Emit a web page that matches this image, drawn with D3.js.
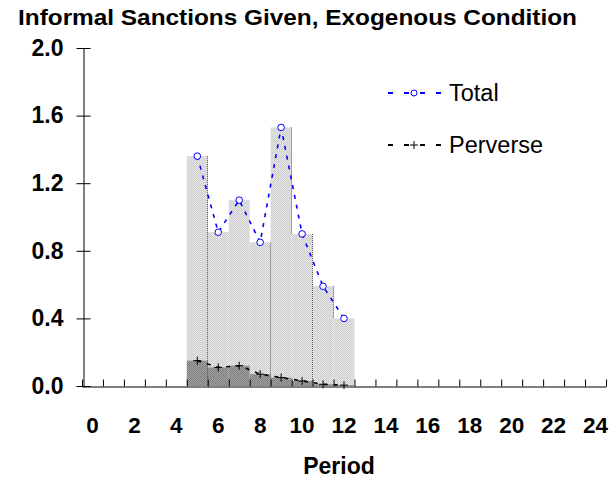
<!DOCTYPE html>
<html>
<head>
<meta charset="utf-8">
<script src="https://cdn.jsdelivr.net/npm/d3@7"></script>
<style>
  body { margin: 0; background: #fff; }
  svg { display: block; font-family: "Liberation Sans", Arial, sans-serif; }
</style>
</head>
<body>
<svg id="chart" width="611" height="482"></svg>
<script>
// categories on the x axis (one band per period)
var periods = [0, 1, 2, 3, 4, 5, 6, 7, 8, 9, 10, 11, 12, 13, 14, 15, 16, 17, 18, 19, 20, 21, 22, 23, 24]
var xLabels = [0, 2, 4, 6, 8, 10, 12, 14, 16, 18, 20, 22, 24]
var yTicks = [0, 0.4, 0.8, 1.2, 1.6, 2.0]

// observed periods and values
var dataPeriods = [5, 6, 7, 8, 9, 10, 11, 12]
var total = [1.36, 0.91, 1.10, 0.85, 1.53, 0.90, 0.59, 0.40]
var perverse = [0.15, 0.11, 0.12, 0.07, 0.05, 0.03, 0.01, 0.005]

// bar edges that show as dark dotted lines
var edgeAfter = [5, 8, 9, 10, 11]
var edgeFull = [5, 8, 10]

var svg = d3.select('#chart')

var x = d3.scaleBand()
    .domain(periods)
    .range([82, 606])
    .padding(0)

var xEdge = d3.scaleLinear()
    .domain([-0.5, 24.5])
    .range([82, 606])

var y = d3.scaleLinear()
    .domain([0, 2])
    .range([386, 48])

// dither patterns like the original fill
var defs = svg.append('defs')
var light = defs.append('pattern')
    .attr('id', 'light').attr('width', 2).attr('height', 2)
    .attr('patternUnits', 'userSpaceOnUse')
light.append('rect').attr('width', 2).attr('height', 2).attr('fill', '#e4e4e4')
light.append('rect').attr('width', 1).attr('height', 1).attr('fill', '#cfcfcf')
light.append('rect').attr('x', 1).attr('y', 1).attr('width', 1).attr('height', 1).attr('fill', '#cfcfcf')

var dark = defs.append('pattern')
    .attr('id', 'dark').attr('width', 2).attr('height', 2)
    .attr('patternUnits', 'userSpaceOnUse')
dark.append('rect').attr('width', 2).attr('height', 2).attr('fill', '#a6a6a6')
dark.append('rect').attr('width', 1).attr('height', 1).attr('fill', '#7a7a7a')
dark.append('rect').attr('x', 1).attr('y', 1).attr('width', 1).attr('height', 1).attr('fill', '#7a7a7a')

var rows = dataPeriods.map(function (p, i) {
    return { p: p, total: total[i], perverse: perverse[i] }
})

// total bars
svg.append('g').selectAll('rect')
    .data(rows)
    .enter()
    .append('rect')
    .attr('x', function (d) { return x(d.p) })
    .attr('y', function (d) { return y(d.total) })
    .attr('width', x.bandwidth())
    .attr('height', function (d) { return y(0) - y(d.total) })
    .attr('fill', 'url(#light)')

// perverse bars
svg.append('g').selectAll('rect')
    .data(rows)
    .enter()
    .append('rect')
    .attr('x', function (d) { return x(d.p) })
    .attr('y', function (d) { return y(d.perverse) })
    .attr('width', x.bandwidth())
    .attr('height', function (d) { return y(0) - y(d.perverse) })
    .attr('fill', 'url(#dark)')

// dotted bar edges
svg.append('g').selectAll('line')
    .data(edgeAfter)
    .enter()
    .append('line')
    .attr('x1', function (p) { return Math.round(x(p) + x.bandwidth()) - 0.5 })
    .attr('x2', function (p) { return Math.round(x(p) + x.bandwidth()) - 0.5 })
    .attr('y1', function (p) { return y(total[dataPeriods.indexOf(p)]) })
    .attr('y2', function (p) {
        if (edgeFull.indexOf(p) >= 0) return y(0)
        return y(total[dataPeriods.indexOf(p) + 1])
    })
    .attr('stroke', '#555')
    .attr('stroke-dasharray', '1,1')

// y axis
var yAxis = d3.axisLeft(y)
    .tickValues(yTicks)
    .tickFormat(d3.format('.1f'))
    .tickSizeInner(7)
    .tickSizeOuter(0)
    .tickPadding(13)

var gy = svg.append('g')
    .attr('transform', 'translate(83.5,0)')
    .call(yAxis)
gy.selectAll('.tick line').attr('x2', -7).attr('x1', 7)
gy.selectAll('text')
    .style('font-size', '23px')
    .style('font-weight', 'bold')
    .attr('fill', '#000')
gy.select('.domain').attr('stroke', '#000')

// x axis: boundary ticks pointing up
var gx = svg.append('g')
    .attr('transform', 'translate(0,386.5)')
    .call(d3.axisBottom(xEdge)
        .tickValues(d3.range(-0.5, 25, 1))
        .tickSizeInner(-7)
        .tickSizeOuter(0)
        .tickFormat(''))
gx.select('.domain').attr('stroke', '#000')
gx.selectAll('.tick line').attr('stroke', '#000')

// x labels centred in the bands
svg.append('g').selectAll('text')
    .data(xLabels)
    .enter()
    .append('text')
    .attr('x', function (d) { return x(d) + x.bandwidth() / 2 })
    .attr('y', 433)
    .attr('text-anchor', 'middle')
    .style('font-size', '22.5px')
    .style('font-weight', 'bold')
    .text(function (d) { return d })

// lines
var line = d3.line()
    .x(function (d) { return x(d.p) + x.bandwidth() / 2 })

svg.append('path')
    .datum(rows)
    .attr('d', line.y(function (d) { return y(d.total) }))
    .attr('fill', 'none')
    .attr('stroke', '#0000ff')
    .attr('stroke-width', 1.6)
    .attr('stroke-dasharray', '4,6')

svg.append('path')
    .datum(rows)
    .attr('d', line.y(function (d) { return y(d.perverse) }))
    .attr('fill', 'none')
    .attr('stroke', '#000')
    .attr('stroke-width', 1.6)
    .attr('stroke-dasharray', '4,6')

svg.append('g').selectAll('circle')
    .data(rows)
    .enter()
    .append('circle')
    .attr('cx', function (d) { return x(d.p) + x.bandwidth() / 2 })
    .attr('cy', function (d) { return y(d.total) })
    .attr('r', 3.3)
    .attr('fill', '#fff')
    .attr('stroke', '#0000ff')
    .attr('stroke-width', 1)

svg.append('g').selectAll('path')
    .data(rows)
    .enter()
    .append('path')
    .attr('transform', function (d) {
        return 'translate(' + (x(d.p) + x.bandwidth() / 2) + ',' + y(d.perverse) + ')'
    })
    .attr('d', 'M-4,0H4M0,-4V4')
    .attr('stroke', '#000')
    .attr('stroke-width', 1)

// legend
var legend = [
    { name: 'Total', color: '#0000ff', y: 93, mark: 'circle' },
    { name: 'Perverse', color: '#000', y: 145, mark: 'plus' }
]
var lg = svg.append('g').selectAll('g')
    .data(legend)
    .enter()
    .append('g')
    .attr('transform', function (d) { return 'translate(0,' + d.y + ')' })

lg.append('line')
    .attr('x1', 388).attr('x2', 441)
    .attr('stroke', function (d) { return d.color })
    .attr('stroke-width', 2)
    .attr('stroke-dasharray', '5,11')
lg.filter(function (d) { return d.mark == 'circle' })
    .append('circle')
    .attr('cx', 414).attr('r', 3)
    .attr('fill', '#fff')
    .attr('stroke', '#0000ff')
lg.filter(function (d) { return d.mark == 'plus' })
    .append('path')
    .attr('d', 'M410,0H418M414,-4V4')
    .attr('stroke', '#000')
lg.append('text')
    .attr('x', 449)
    .attr('y', 8)
    .style('font-size', '23.5px')
    .text(function (d) { return d.name })

// titles
svg.append('text')
    .attr('x', 18)
    .attr('y', 25)
    .attr('textLength', 559)
    .attr('lengthAdjust', 'spacingAndGlyphs')
    .style('font-size', '22px')
    .style('font-weight', 'bold')
    .text('Informal Sanctions Given, Exogenous Condition')

svg.append('text')
    .attr('x', 339)
    .attr('y', 474)
    .attr('text-anchor', 'middle')
    .style('font-size', '23px')
    .style('font-weight', 'bold')
    .text('Period')
</script>
</body>
</html>
